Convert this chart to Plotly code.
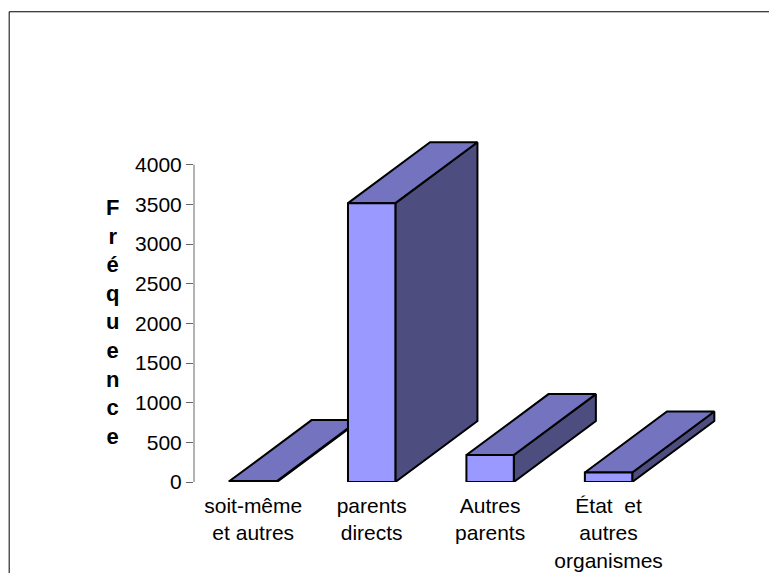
import plotly.graph_objects as go

categories = ["soit-même<br>et autres", "parents<br>directs", "Autres<br>parents", "État  et<br>autres<br>organismes"]
values = [12, 3515, 340, 120]
y_ticks = [0, 500, 1000, 1500, 2000, 2500, 3000, 3500, 4000]
y_title = "Fréquence"

FRONT = "#9999FF"
TOP = "#7373BF"
SIDE = "#4D4D80"
HALF = 0.2
DX = 0.693
DY = 768
Y_MAX = 4500
FONT = "Liberation Sans, Arial, sans-serif"

W, H = 769, 573
L, R, T, B = 193.5, 42, 124.8, 91
PW, PH = W - L - R, H - T - B


def px(x):
    return (x - L) / PW


def py(y):
    return (H - B - y) / PH


fig = go.Figure()


def face(xs, ys, color):
    fig.add_trace(go.Scatter(
        x=xs + xs[:1], y=ys + ys[:1], mode="lines", fill="toself", fillcolor=color,
        line=dict(color="black", width=2), hoverinfo="skip", showlegend=False))


for i, v in enumerate(values):
    l, r = i - HALF, i + HALF
    face([r, r + DX, r + DX, r], [0, DY, v + DY, v], SIDE)
    face([l, r, r + DX, l + DX], [v, v, v + DY, v + DY], TOP)
    face([l, r, r, l], [0, 0, v, v], FRONT)

fig.update_layout(
    width=W, height=H,
    margin=dict(l=L, r=R, t=T, b=B, autoexpand=False),
    paper_bgcolor="white", plot_bgcolor="white",
    font=dict(family=FONT, size=21, color="black"),
    xaxis=dict(range=[-0.5, 4.0], tickmode="array", tickvals=list(range(len(categories))),
               ticktext=categories, showgrid=False, zeroline=False, showline=False,
               ticks="", ticklen=0, tickangle=0, ticklabelstandoff=9, fixedrange=True),
    yaxis=dict(range=[0, Y_MAX], tickmode="array", tickvals=y_ticks,
               showgrid=False, zeroline=False, showline=False,
               ticks="outside", ticklen=7, tickcolor="#666666", tickwidth=1, fixedrange=True),
    shapes=[
        dict(type="line", xref="paper", yref="paper", x0=0, x1=0, y0=0, y1=y_ticks[-1] / Y_MAX,
             line=dict(color="#666666", width=1)),
        dict(type="line", xref="paper", yref="paper", x0=px(8.5), x1=px(W + 5),
             y0=py(11.5), y1=py(11.5), line=dict(color="black", width=1)),
        dict(type="line", xref="paper", yref="paper", x0=px(8.5), x1=px(8.5),
             y0=py(11.5), y1=py(H + 5), line=dict(color="black", width=1)),
    ],
    annotations=[dict(
        text="<b>" + "<br>".join(y_title) + "</b>", xref="paper", yref="paper",
        x=px(112), y=py(322), xanchor="center", yanchor="middle", showarrow=False,
        align="center", font=dict(family=FONT, size=22, color="black"))],
)
fig.write_html("out.html", config=dict(displayModeBar=False),
               post_script="document.body.style.margin='0';")
